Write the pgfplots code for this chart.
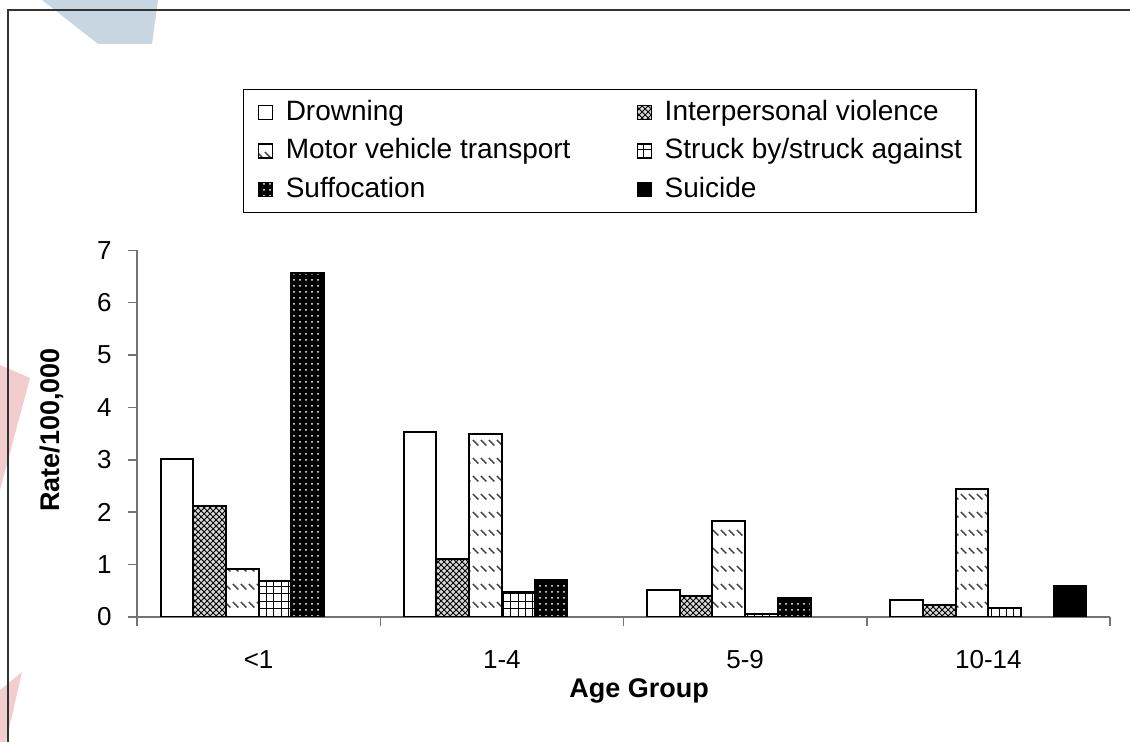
\documentclass[border=0pt]{standalone}
\usepackage{fontspec}
\setmainfont{Liberation Sans}
\usepackage{pgfplots}
\pgfplotsset{compat=1.18}
\usetikzlibrary{patterns}
\definecolor{wmblue}{RGB}{200,214,225}
\definecolor{wmpink}{RGB}{242,205,205}

\pgfdeclarepatternformonly{mvdash}{\pgfqpoint{-0.5pt}{-0.5pt}}{\pgfqpoint{4.5pt}{9.5pt}}{\pgfqpoint{4pt}{9pt}}{%
  \pgfsetlinewidth{0.7pt}%
  \pgfpathmoveto{\pgfqpoint{0.4pt}{7pt}}%
  \pgfpathlineto{\pgfqpoint{3.2pt}{4.2pt}}%
  \pgfusepath{stroke}}
\pgfdeclarepatternformonly{mygrid}{\pgfqpoint{-0.5pt}{-0.5pt}}{\pgfqpoint{3.8pt}{3.8pt}}{\pgfqpoint{3.7pt}{3.7pt}}{%
  \pgfsetlinewidth{0.5pt}%
  \pgfpathmoveto{\pgfqpoint{0pt}{0pt}}\pgfpathlineto{\pgfqpoint{3.8pt}{0pt}}%
  \pgfpathmoveto{\pgfqpoint{0pt}{0pt}}\pgfpathlineto{\pgfqpoint{0pt}{3.8pt}}%
  \pgfusepath{stroke}}

\begin{document}
\begin{tikzpicture}
\useasboundingbox (0,0) rectangle (565pt,371pt);
% faint watermark shapes
\fill[wmblue] (21pt,371pt) -- (79pt,371pt) -- (76pt,349pt) -- (49pt,349pt) -- cycle;
\fill[wmpink] (0pt,188.5pt) -- (15pt,182pt) -- (0pt,126pt) -- cycle;
\fill[wmpink] (0pt,26pt) -- (11pt,35pt) -- (3pt,0pt) -- (0pt,0pt) -- cycle;
% outer frame
\draw[black!80, line width=0.75pt] (4pt,0pt) -- (4pt,366pt) -- (565pt,366pt);
\begin{axis}[
  at={(68.5pt,62.5pt)}, anchor=south west,
  scale only axis, width=486.5pt, height=183.35pt,
  xmin=-0.5, xmax=3.5, ymin=0, ymax=7,
  axis lines*=left,
  axis line style={black!55, line width=0.75pt},
  tick style={black!55, line width=0.75pt},
  tick align=outside, major tick length=4.5pt,
  xtick={-0.5,0.5,1.5,2.5,3.5},
  x tick label as interval,
  xticklabels={{<1},{1-4},{5-9},{10-14}},
  ytick={0,1,2,3,4,5,6,7},
  /pgf/number format/assume math mode=true,
  ticklabel style={font=\fontsize{13}{15}\selectfont, inner sep=0pt},
  xticklabel shift=12pt,
  yticklabel shift=8pt,
  ybar=0pt, bar width=16.35pt,
  xlabel={Age Group},
  xlabel style={at={(axis description cs:0.516,-0.2182)}, anchor=base, font=\fontsize{13.5}{16}\selectfont\bfseries},
  ylabel={Rate/100,000},
  ylabel style={at={(axis description cs:-0.0874,0.51)}, anchor=center, font=\fontsize{13.5}{16}\selectfont\bfseries},
  legend columns=2,
  legend style={at={(axis description cs:0.1089,1.4399)}, anchor=north west,
    draw=black, line width=0.6pt, font=\fontsize{14}{16}\selectfont,
    inner xsep=7pt, inner ysep=4.75pt, row sep=5.75pt,
    cells={anchor=west},
    nodes={inner sep=0pt, text height=10.5pt, text depth=3pt},
    /tikz/every odd column/.append style={column sep=6.5pt},
    /tikz/column 2/.style={column sep=33pt}},
  every axis plot post/.append style={
    legend image code/.code={\draw[#1, line width=0.6pt] (0pt,-3.5pt) rectangle (7pt,3.5pt);}},
]
\addplot[draw=black, line width=1pt, fill=white]
  coordinates {(0,3.02) (1,3.53) (2,0.51) (3,0.32)};
\addplot[draw=black, line width=1pt, fill=gray!30, postaction={pattern=crosshatch, pattern color=black}]
  coordinates {(0,2.11) (1,1.10) (2,0.41) (3,0.22)};
\addplot[draw=black, line width=1pt, fill=white, postaction={pattern=mvdash, pattern color=black!75}]
  coordinates {(0,0.92) (1,3.49) (2,1.83) (3,2.44)};
\addplot[draw=black, line width=1pt, fill=white, postaction={pattern=mygrid, pattern color=black}]
  coordinates {(0,0.69) (1,0.47) (2,0.06) (3,0.18)};
\addplot[draw=black, line width=1pt, fill=black, postaction={pattern=dots, pattern color=white}]
  coordinates {(0,6.56) (1,0.70) (2,0.37)};
\addplot[draw=black, line width=1pt, fill=black]
  coordinates {(3,0.60)};
\legend{Drowning, Interpersonal violence, Motor vehicle transport, Struck by/struck against, Suffocation, Suicide}
\end{axis}
\end{tikzpicture}
\end{document}
